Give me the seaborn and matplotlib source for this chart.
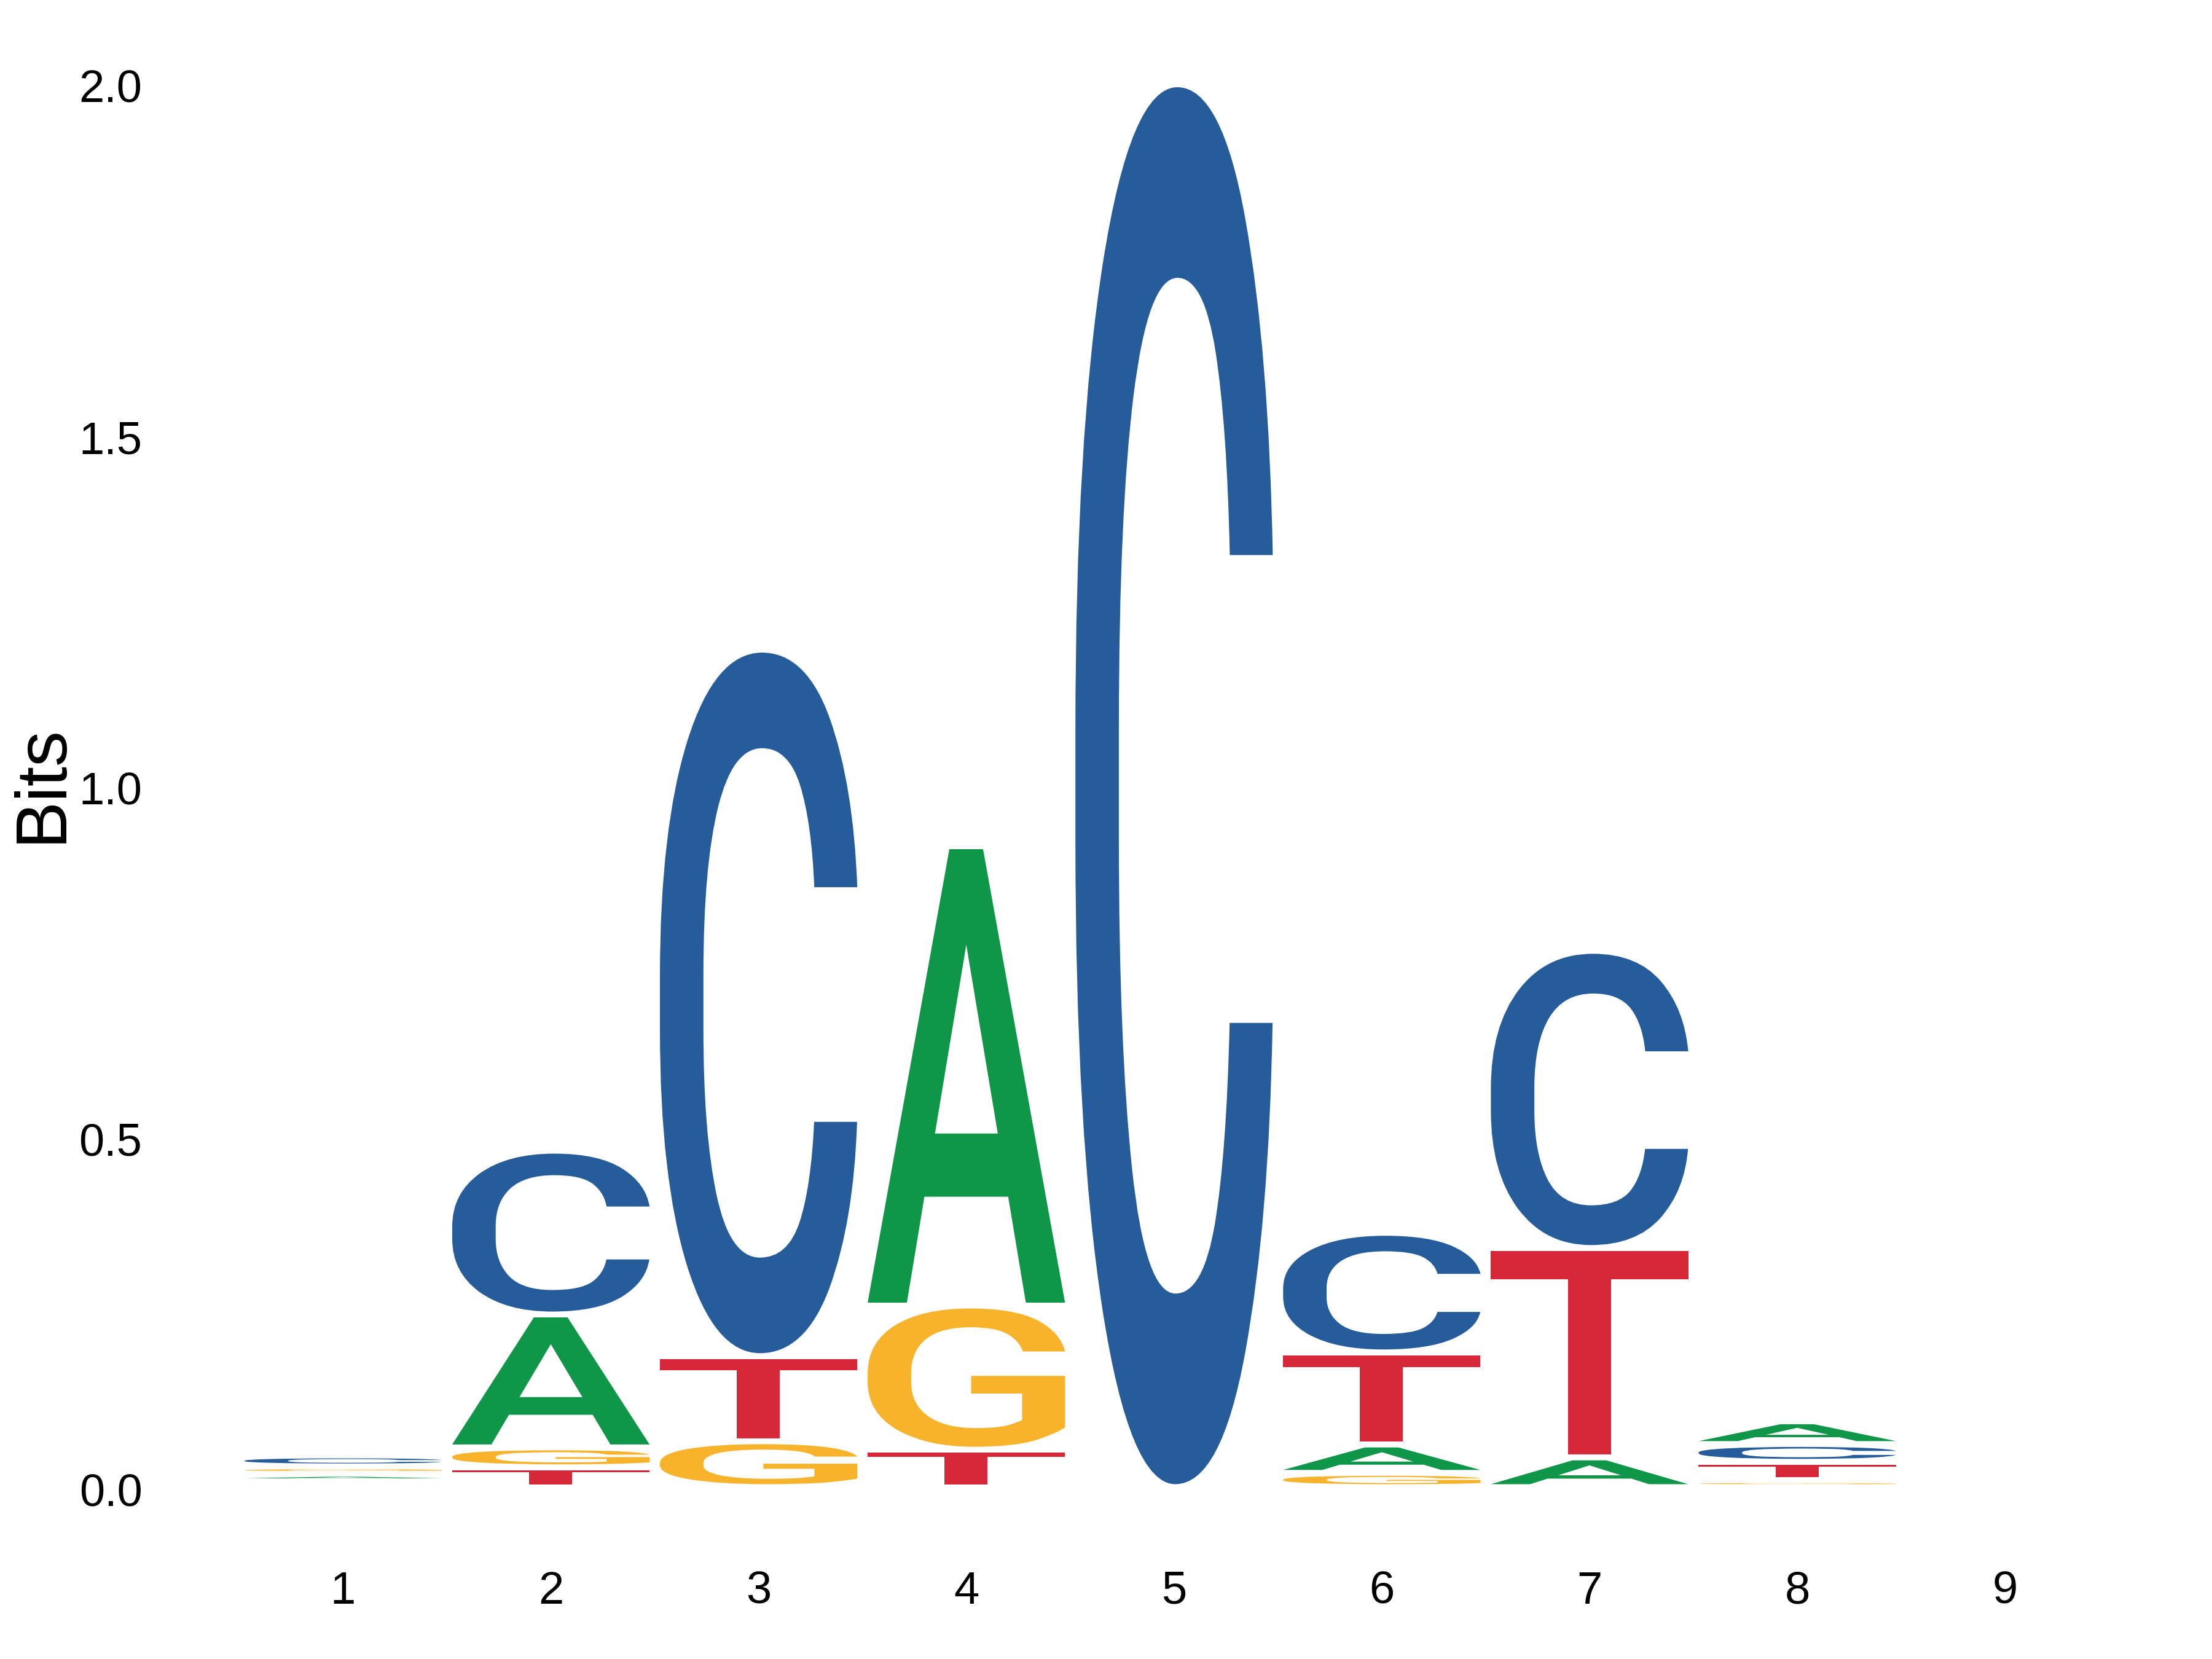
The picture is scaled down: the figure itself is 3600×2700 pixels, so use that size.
import numpy as np
import pandas as pd
import matplotlib
matplotlib.use("Agg")
import matplotlib.pyplot as plt
import seaborn as sns
from matplotlib.textpath import TextPath
from matplotlib.patches import PathPatch
from matplotlib.font_manager import FontProperties
from matplotlib.transforms import Affine2D

# sequence logo, letters listed bottom -> top within each position
n_positions = 9
position = [1, 1, 1, 1,
            2, 2, 2, 2,
            3, 3, 3,
            4, 4, 4,
            5,
            6, 6, 6, 6,
            7, 7, 7,
            8, 8, 8, 8]
letter = ["T", "A", "G", "C",
          "T", "G", "A", "C",
          "G", "T", "C",
          "T", "G", "A",
          "C",
          "G", "A", "T", "C",
          "A", "T", "C",
          "G", "T", "C", "A"]
bits = [0.0, 0.0023, 0.0023, 0.0073,
        0.020, 0.020, 0.181, 0.225,
        0.057, 0.113, 0.998,
        0.045, 0.197, 0.646,
        1.990,
        0.012, 0.032, 0.123, 0.162,
        0.034, 0.290, 0.415,
        0.0015, 0.018, 0.017, 0.024]
y_ticks = [0.0, 0.5, 1.0, 1.5, 2.0]

colors = {"A": "#109648", "C": "#255C99", "G": "#F7B32B", "T": "#D62839"}

df = pd.DataFrame({"position": position, "letter": letter, "bits": bits})

sns.set_theme(style="white")
plt.rcParams["font.family"] = ["Liberation Sans", "DejaVu Sans"]

glyph_font = FontProperties(family="Roboto", weight="medium")
GAP = 0.0083      # small white space under each glyph
WIDTH = 0.95


def draw_letter(ax, ch, x, y0, h, color):
    tp = TextPath((0, 0), ch, size=1, prop=glyph_font)
    bb = tp.get_extents()
    tr = (Affine2D()
          .translate(-bb.x0, -bb.y0)
          .scale(WIDTH / bb.width, h / bb.height)
          .translate(x - WIDTH / 2, y0))
    ax.add_patch(PathPatch(tr.transform_path(tp), facecolor=color,
                           edgecolor="none", lw=0, clip_on=False))


fig = plt.figure(figsize=(12, 9), dpi=300)
ax = fig.add_axes([0.06591, 0.05954, 0.92974, 0.93093])

for pos, grp in df.groupby("position", sort=True):
    y = 0.0
    for _, row in grp.iterrows():
        y += GAP
        if row["bits"] > 0:
            draw_letter(ax, row["letter"], pos, y, row["bits"], colors[row["letter"]])
        y += row["bits"]

ax.set_xlim(0.05, 9.95)
ax.set_ylim(-0.1, 2.1)
ax.set_xticks(range(1, n_positions + 1))
ax.set_xticklabels([str(i) for i in range(1, n_positions + 1)], fontsize=17.8)
ax.set_yticks(y_ticks)
ax.set_yticklabels([f"{v:.1f}" for v in y_ticks], fontsize=17.8)
ax.tick_params(axis="x", length=0, pad=4.0, colors="black")
ax.tick_params(axis="y", length=0, pad=1.4, colors="black")
ax.set_ylabel("Bits", fontsize=27.8, color="black", va="center", ha="center")
ax.yaxis.set_label_coords(-0.0502, 0.5026)
ax.grid(False)
sns.despine(ax=ax, left=True, bottom=True)

fig.savefig("out.png", dpi=300, facecolor="white")
